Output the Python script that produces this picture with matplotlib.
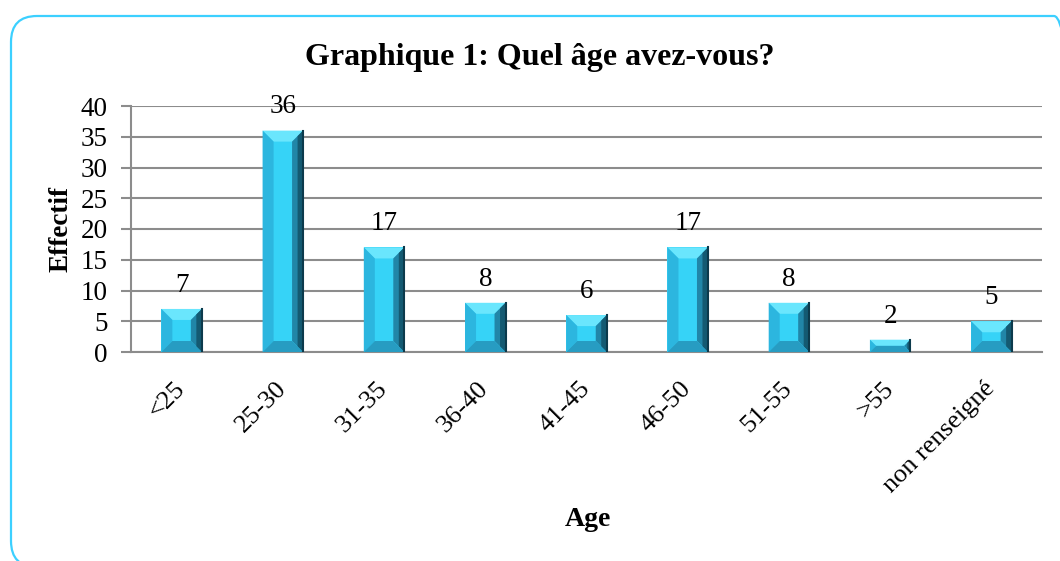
import matplotlib
matplotlib.use('Agg')
import matplotlib.pyplot as plt
from matplotlib.patches import Polygon, FancyBboxPatch
from matplotlib.transforms import IdentityTransform
import numpy as np

plt.rcParams['font.family'] = ['Liberation Serif', 'DejaVu Serif']

# data
ages = ['<25', '25-30', '31-35', '36-40', '41-45', '46-50', '51-55', '>55', 'non renseigné']
effectif = [7, 36, 17, 8, 6, 17, 8, 2, 5]
yticks = [0, 5, 10, 15, 20, 25, 30, 35, 40]

face = '#36d3f7'
grid_col = '#8c8c8c'

fig = plt.figure(figsize=(10.6, 5.61), dpi=100)
ax = fig.add_axes([131/1060, 1-352/561, 911/1060, 246/561])

x = np.arange(len(ages))
bars = ax.bar(x, effectif, width=0.4, color=face, zorder=3)
ax.set_xlim(-0.5, len(ages)-0.5)
ax.set_ylim(0, 40)

# bevel look: bevel size in data units from axes size in pixels
bb = ax.get_window_extent()
bev = 11.0
dx = bev * len(ages) / bb.width
dy = bev * 40 / bb.height


def poly(pts, col):
    ax.add_patch(Polygon(pts, closed=True, color=col, lw=0, zorder=4))


for b in bars:
    x0, y0 = b.get_x(), b.get_y()
    w, h = b.get_width(), b.get_height()
    x1, y1 = x0 + w, y0 + h
    ey = min(dy, h/2)
    ex = dx * min(1.0, ey/dy)
    ix0, ix1 = x0 + ex, x1 - ex
    iy0, iy1 = y0 + ey, y1 - ey
    poly([(x0, y1), (x1, y1), (ix1, iy1), (ix0, iy1)], '#6ae6fd')   # top
    poly([(x0, y0), (x0, y1), (ix0, iy1), (ix0, iy0)], '#2cb6df')   # left
    poly([(x1, y0), (x1, y1), (ix1, iy1), (ix1, iy0)], '#2186a8')   # right
    mx = x1 - ex/2
    poly([(x1, y0), (x1, y1), (mx, y1 - ey/2), (mx, y0 + ey/2)], '#145a72')
    poly([(x0, y0), (x1, y0), (ix1, iy0), (ix0, iy0)], '#279cc2')   # bottom
    ax.plot([x1, x1], [y0, y1], color='#0c3a4c', lw=1.5, zorder=5)

for xi, v in zip(x, effectif):
    ax.annotate(str(v), (xi, v), xytext=(0, 8), textcoords='offset points',
                ha='center', va='bottom', fontsize=19.5)

ax.set_yticks(yticks)
ax.set_yticklabels([str(t) for t in yticks], fontsize=19.5)
ax.set_xticks(x)
ax.set_xticklabels(ages, rotation=45, ha='right', va='center',
                   rotation_mode='anchor', fontsize=19)
ax.tick_params(axis='x', length=0, pad=24)
ax.tick_params(axis='y', length=7, width=1.5, color=grid_col, pad=10)

ax.yaxis.grid(True, color=grid_col, lw=1.5, zorder=0)
ax.set_axisbelow(True)
for s in ['top', 'right']:
    ax.spines[s].set_visible(False)
ax.spines['left'].set_color(grid_col)
ax.spines['left'].set_linewidth(1.5)
ax.spines['bottom'].set_color(grid_col)
ax.spines['bottom'].set_linewidth(1.5)

ax.set_ylabel('Effectif', fontsize=19.5, fontweight='bold')
ax.yaxis.set_label_coords(-(131-74)/911, 0.5)
fig.text(588/1060, 1-520/561, 'Age', ha='center', va='center',
         fontsize=20, fontweight='bold')
fig.text(540/1060, 1-58/561, 'Graphique 1: Quel âge avez-vous?', ha='center',
         va='center', fontsize=23, fontweight='bold')

frame = FancyBboxPatch((11, -6), 1069, 551, boxstyle='round,pad=0,rounding_size=26',
                       transform=IdentityTransform(), fill=False,
                       ec='#3cd0ff', lw=1.6)
fig.patches.append(frame)

fig.savefig('out.png', dpi=100)
